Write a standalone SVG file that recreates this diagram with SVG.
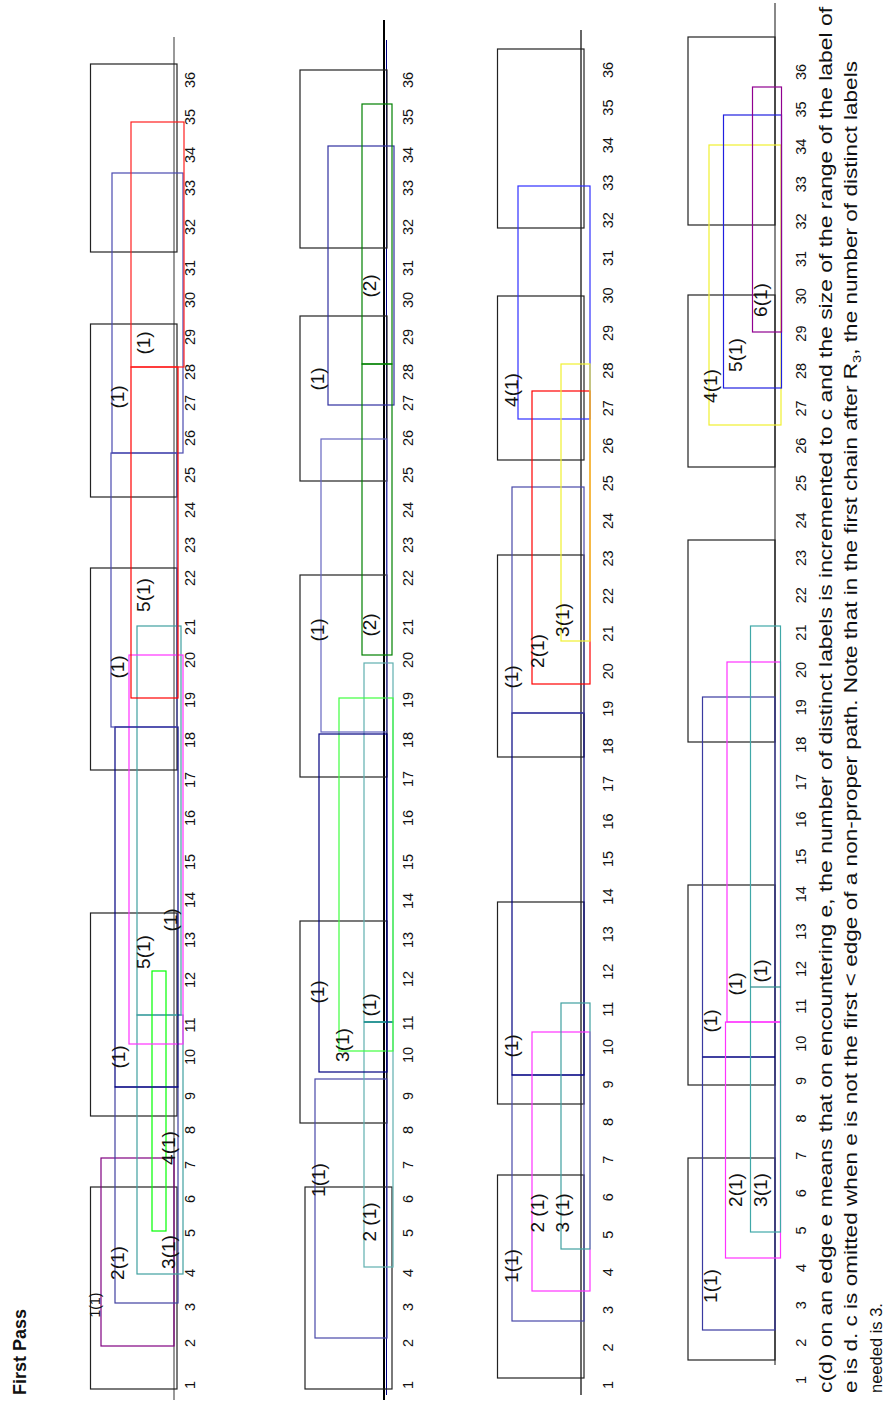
<svg xmlns="http://www.w3.org/2000/svg" width="885" height="1401" viewBox="0 0 885 1401">
<style>
text{font-family:"Liberation Sans",Arial,sans-serif;fill:#111}
.t{font-size:14.5px}
.l{font-size:19px}
.s{font-size:14px}
.cap{font-size:17.5px;white-space:pre}
.ttl{font-size:18px;font-weight:bold}
.box{fill:none;stroke:#222;stroke-width:1.2}
.e{fill:none;stroke-width:1.2}
.ax{stroke:#777;stroke-width:1.5}
</style>
<rect width="885" height="1401" fill="#fff"/>
<text class="ttl" transform="translate(26,1395) rotate(-90)">First Pass</text>

<!-- PANEL 1 -->
<g id="panel1">
<line class="ax" x1="174" y1="37" x2="174" y2="1400"/>
<g id="p1-boxes">
<rect class="box" x="90.5" y="1187" width="86.5" height="202"/>
<rect class="box" x="90.5" y="913" width="86.5" height="203"/>
<rect class="box" x="90.5" y="568" width="86.5" height="202"/>
<rect class="box" x="90.5" y="324" width="86.5" height="173"/>
<rect class="box" x="90.5" y="64" width="86.5" height="188"/>
</g>
<g id="p1-edges">
<rect class="e" x="101" y="1158" width="73" height="188" stroke="#800080" stroke-width="2.2"/>
<rect class="e" x="115" y="1087" width="63" height="216" stroke="#4040a0"/>
<rect class="e" x="137" y="1015" width="46" height="259" stroke="#40a0a0"/>
<rect class="e" x="137" y="626" width="44" height="389" stroke="#40a0a0"/>
<rect class="e" x="152" y="971" width="14" height="260" stroke="#00ff00" stroke-width="2.2"/>
<rect class="e" x="129" y="655" width="54" height="389" stroke="#ff33ff"/>
<rect class="e" x="115" y="727" width="63" height="360" stroke="#000080"/>
<rect class="e" x="111" y="453" width="66" height="274" stroke="#4a4ab0"/>
<rect class="e" x="112" y="173" width="71" height="280" stroke="#4a4ab0"/>
<rect class="e" x="131" y="367" width="47" height="331" stroke="#ff0000"/>
<rect class="e" x="131" y="122" width="53" height="245" stroke="#ff2020"/>
</g>
<g id="p1-labels" text-anchor="middle" dominant-baseline="central">
<text class="s" transform="translate(95,1305) rotate(-90)">1(1)</text>
<text class="l" transform="translate(117,1263) rotate(-90)">2(1)</text>
<text class="l" transform="translate(168,1252) rotate(-90)">3(1)</text>
<text class="l" transform="translate(168,1148) rotate(-90)">4(1)</text>
<text class="l" transform="translate(118,1057) rotate(-90)">(1)</text>
<text class="l" transform="translate(143,952) rotate(-90)">5(1)</text>
<text class="l" transform="translate(170,920) rotate(-90)">(1)</text>
<text class="l" transform="translate(117,667) rotate(-90)">(1)</text>
<text class="l" transform="translate(143,595) rotate(-90)">5(1)</text>
<text class="l" transform="translate(117,397) rotate(-90)">(1)</text>
<text class="l" transform="translate(143,343) rotate(-90)">(1)</text>
</g>
<g id="p1-ticks" class="t" text-anchor="middle" dominant-baseline="central">
<text transform="translate(190,1385) rotate(-90)">1</text>
<text transform="translate(190,1343) rotate(-90)">2</text>
<text transform="translate(190,1307) rotate(-90)">3</text>
<text transform="translate(190,1273) rotate(-90)">4</text>
<text transform="translate(190,1233) rotate(-90)">5</text>
<text transform="translate(190,1199) rotate(-90)">6</text>
<text transform="translate(190,1165) rotate(-90)">7</text>
<text transform="translate(190,1130) rotate(-90)">8</text>
<text transform="translate(190,1096) rotate(-90)">9</text>
<text transform="translate(190,1057) rotate(-90)">10</text>
<text transform="translate(190,1025) rotate(-90)">11</text>
<text transform="translate(190,980) rotate(-90)">12</text>
<text transform="translate(190,940) rotate(-90)">13</text>
<text transform="translate(190,900) rotate(-90)">14</text>
<text transform="translate(190,862) rotate(-90)">15</text>
<text transform="translate(190,818) rotate(-90)">16</text>
<text transform="translate(190,780) rotate(-90)">17</text>
<text transform="translate(190,740) rotate(-90)">18</text>
<text transform="translate(190,700) rotate(-90)">19</text>
<text transform="translate(190,660) rotate(-90)">20</text>
<text transform="translate(190,627) rotate(-90)">21</text>
<text transform="translate(190,578) rotate(-90)">22</text>
<text transform="translate(190,545) rotate(-90)">23</text>
<text transform="translate(190,510) rotate(-90)">24</text>
<text transform="translate(190,475) rotate(-90)">25</text>
<text transform="translate(190,438) rotate(-90)">26</text>
<text transform="translate(190,403) rotate(-90)">27</text>
<text transform="translate(190,372) rotate(-90)">28</text>
<text transform="translate(190,337) rotate(-90)">29</text>
<text transform="translate(190,300) rotate(-90)">30</text>
<text transform="translate(190,268) rotate(-90)">31</text>
<text transform="translate(190,227) rotate(-90)">32</text>
<text transform="translate(190,188) rotate(-90)">33</text>
<text transform="translate(190,155) rotate(-90)">34</text>
<text transform="translate(190,117) rotate(-90)">35</text>
<text transform="translate(190,80) rotate(-90)">36</text>
</g>
</g>

<!-- PANEL 2 -->
<g id="panel2">
<line x1="384" y1="20" x2="384" y2="1400" stroke="#000" stroke-width="2"/>
<line x1="386.5" y1="40" x2="386.5" y2="1395" stroke="#000080" stroke-width="1"/>
<g id="p2-boxes">
<rect class="box" x="305" y="1187" width="87" height="202"/>
<rect class="box" x="300" y="921" width="87" height="202"/>
<rect class="box" x="300" y="575" width="87" height="202"/>
<rect class="box" x="300" y="316" width="87" height="165"/>
<rect class="box" x="300" y="70" width="87" height="178"/>
</g>
<g id="p2-edges">
<rect class="e" x="315" y="1079" width="72" height="259" stroke="#4848a8"/>
<rect class="e" x="364" y="1022" width="29" height="245" stroke="#60b0b0" stroke-width="1.5"/>
<rect class="e" x="364" y="663" width="29" height="359" stroke="#60b0b0" stroke-width="1.5"/>
<line x1="364" y1="1022" x2="393" y2="1022" stroke="#008080" stroke-width="1.2"/>
<rect class="e" x="339" y="698" width="54" height="353" stroke="#40ff40"/>
<rect class="e" x="319" y="734" width="68" height="338" stroke="#000080"/>
<rect class="e" x="321" y="439" width="66" height="293" stroke="#6666c0"/>
<rect class="e" x="328" y="146" width="66" height="259" stroke="#3030a0"/>
<rect class="e" x="362" y="364" width="30" height="291" stroke="#008000"/>
<rect class="e" x="362" y="104" width="30" height="260" stroke="#008000"/>
</g>
<g id="p2-labels" class="l" text-anchor="middle" dominant-baseline="central">
<text transform="translate(318,1180) rotate(-90)">1(1)</text>
<text transform="translate(369,1222) rotate(-90)">2 (1)</text>
<text transform="translate(342,1045) rotate(-90)">3(1)</text>
<text transform="translate(369,1005) rotate(-90)">(1)</text>
<text transform="translate(317,992) rotate(-90)">(1)</text>
<text transform="translate(317,630) rotate(-90)">(1)</text>
<text transform="translate(369,625) rotate(-90)">(2)</text>
<text transform="translate(317,379) rotate(-90)">(1)</text>
<text transform="translate(369,286) rotate(-90)">(2)</text>
</g>
<g id="p2-ticks" class="t" text-anchor="middle" dominant-baseline="central">
<text transform="translate(408,1385) rotate(-90)">1</text>
<text transform="translate(408,1343) rotate(-90)">2</text>
<text transform="translate(408,1307) rotate(-90)">3</text>
<text transform="translate(408,1273) rotate(-90)">4</text>
<text transform="translate(408,1233) rotate(-90)">5</text>
<text transform="translate(408,1199) rotate(-90)">6</text>
<text transform="translate(408,1165) rotate(-90)">7</text>
<text transform="translate(408,1130) rotate(-90)">8</text>
<text transform="translate(408,1096) rotate(-90)">9</text>
<text transform="translate(408,1055) rotate(-90)">10</text>
<text transform="translate(408,1023) rotate(-90)">11</text>
<text transform="translate(408,979) rotate(-90)">12</text>
<text transform="translate(408,940) rotate(-90)">13</text>
<text transform="translate(408,901) rotate(-90)">14</text>
<text transform="translate(408,862) rotate(-90)">15</text>
<text transform="translate(408,818) rotate(-90)">16</text>
<text transform="translate(408,779) rotate(-90)">17</text>
<text transform="translate(408,740) rotate(-90)">18</text>
<text transform="translate(408,700) rotate(-90)">19</text>
<text transform="translate(408,660) rotate(-90)">20</text>
<text transform="translate(408,627) rotate(-90)">21</text>
<text transform="translate(408,578) rotate(-90)">22</text>
<text transform="translate(408,545) rotate(-90)">23</text>
<text transform="translate(408,510) rotate(-90)">24</text>
<text transform="translate(408,475) rotate(-90)">25</text>
<text transform="translate(408,438) rotate(-90)">26</text>
<text transform="translate(408,403) rotate(-90)">27</text>
<text transform="translate(408,372) rotate(-90)">28</text>
<text transform="translate(408,337) rotate(-90)">29</text>
<text transform="translate(408,300) rotate(-90)">30</text>
<text transform="translate(408,268) rotate(-90)">31</text>
<text transform="translate(408,227) rotate(-90)">32</text>
<text transform="translate(408,188) rotate(-90)">33</text>
<text transform="translate(408,155) rotate(-90)">34</text>
<text transform="translate(408,117) rotate(-90)">35</text>
<text transform="translate(408,80) rotate(-90)">36</text>
</g>
</g>

<!-- PANEL 3 -->
<g id="panel3">
<line x1="581" y1="30" x2="581" y2="1395" stroke="#333" stroke-width="1.5"/>
<g id="p3-boxes">
<rect class="box" x="497.5" y="1175" width="86.5" height="203"/>
<rect class="box" x="497.5" y="902" width="86.5" height="202"/>
<rect class="box" x="497.5" y="555" width="86.5" height="202"/>
<rect class="box" x="497.5" y="296" width="86.5" height="164"/>
<rect class="box" x="497.5" y="49" width="86.5" height="179"/>
</g>
<g id="p3-edges">
<rect class="e" x="512" y="1075" width="72" height="246" stroke="#4848a8"/>
<rect class="e" x="512" y="713" width="72" height="362" stroke="#000080"/>
<rect class="e" x="512" y="487" width="72" height="226" stroke="#4848a8"/>
<rect class="e" x="518" y="186" width="72" height="233" stroke="#3030ff"/>
<rect class="e" x="532" y="1032" width="58" height="259" stroke="#ff33ff"/>
<rect class="e" x="561" y="1003" width="29" height="246" stroke="#40a0a0"/>
<rect class="e" x="532" y="391" width="58" height="293" stroke="#ff0000"/>
<rect class="e" x="561" y="364" width="29" height="277" stroke="#f0f030"/>
</g>
<g id="p3-labels" class="l" text-anchor="middle" dominant-baseline="central">
<text transform="translate(511,1266) rotate(-90)">1(1)</text>
<text transform="translate(511,1046) rotate(-90)">(1)</text>
<text transform="translate(537,1213) rotate(-90)">2 (1)</text>
<text transform="translate(562,1213) rotate(-90)">3 (1)</text>
<text transform="translate(511,677) rotate(-90)">(1)</text>
<text transform="translate(537,651) rotate(-90)">2(1)</text>
<text transform="translate(562,620) rotate(-90)">3(1)</text>
<text transform="translate(511,390) rotate(-90)">4(1)</text>
</g>
<g id="p3-ticks" class="t" text-anchor="middle" dominant-baseline="central">
<text transform="translate(608,1385) rotate(-90)">1</text>
<text transform="translate(608,1347.4) rotate(-90)">2</text>
<text transform="translate(608,1309.9) rotate(-90)">3</text>
<text transform="translate(608,1272.3) rotate(-90)">4</text>
<text transform="translate(608,1234.7) rotate(-90)">5</text>
<text transform="translate(608,1197.2) rotate(-90)">6</text>
<text transform="translate(608,1159.6) rotate(-90)">7</text>
<text transform="translate(608,1122) rotate(-90)">8</text>
<text transform="translate(608,1084.4) rotate(-90)">9</text>
<text transform="translate(608,1046.9) rotate(-90)">10</text>
<text transform="translate(608,1009.3) rotate(-90)">11</text>
<text transform="translate(608,971.7) rotate(-90)">12</text>
<text transform="translate(608,934.2) rotate(-90)">13</text>
<text transform="translate(608,896.6) rotate(-90)">14</text>
<text transform="translate(608,859) rotate(-90)">15</text>
<text transform="translate(608,821.5) rotate(-90)">16</text>
<text transform="translate(608,783.9) rotate(-90)">17</text>
<text transform="translate(608,746.3) rotate(-90)">18</text>
<text transform="translate(608,708.7) rotate(-90)">19</text>
<text transform="translate(608,671.2) rotate(-90)">20</text>
<text transform="translate(608,633.6) rotate(-90)">21</text>
<text transform="translate(608,596) rotate(-90)">22</text>
<text transform="translate(608,558.5) rotate(-90)">23</text>
<text transform="translate(608,520.9) rotate(-90)">24</text>
<text transform="translate(608,483.3) rotate(-90)">25</text>
<text transform="translate(608,445.8) rotate(-90)">26</text>
<text transform="translate(608,408.2) rotate(-90)">27</text>
<text transform="translate(608,370.6) rotate(-90)">28</text>
<text transform="translate(608,333) rotate(-90)">29</text>
<text transform="translate(608,295.5) rotate(-90)">30</text>
<text transform="translate(608,257.9) rotate(-90)">31</text>
<text transform="translate(608,220.3) rotate(-90)">32</text>
<text transform="translate(608,182.8) rotate(-90)">33</text>
<text transform="translate(608,145.2) rotate(-90)">34</text>
<text transform="translate(608,107.6) rotate(-90)">35</text>
<text transform="translate(608,70) rotate(-90)">36</text>
</g>
</g>

<!-- PANEL 4 -->
<g id="panel4">
<line x1="775" y1="3" x2="775" y2="1365" stroke="#888" stroke-width="2"/>
<g id="p4-boxes">
<rect class="box" x="688" y="1158" width="87" height="202"/>
<rect class="box" x="688" y="885" width="87" height="200"/>
<rect class="box" x="688" y="540" width="87" height="202"/>
<rect class="box" x="688" y="295" width="87" height="172"/>
<rect class="box" x="688" y="37" width="87" height="188"/>
</g>
<g id="p4-edges">
<rect class="e" x="702.5" y="697" width="72.5" height="633" stroke="#3a3aa0"/>
<line x1="702.5" y1="1057" x2="775" y2="1057" stroke="#000080" stroke-width="1.5"/>
<rect class="e" x="725.5" y="1022" width="55" height="236" stroke="#ff33ff"/>
<rect class="e" x="727" y="662" width="53.5" height="360" stroke="#ff33ff"/>
<rect class="e" x="750.5" y="626" width="30" height="606" stroke="#40a8a8" stroke-width="1.5"/>
<line x1="750.5" y1="987" x2="780.5" y2="987" stroke="#2a8a8a" stroke-width="1.2"/>
<rect class="e" x="709" y="145" width="72" height="280" stroke="#f0f030"/>
<rect class="e" x="723.5" y="115" width="58" height="273" stroke="#2020e0"/>
<rect class="e" x="752.5" y="87" width="29" height="245" stroke="#900090"/>
</g>
<g id="p4-labels" class="l" text-anchor="middle" dominant-baseline="central">
<text transform="translate(710,1286) rotate(-90)">1(1)</text>
<text transform="translate(710,1021) rotate(-90)">(1)</text>
<text transform="translate(735,1190) rotate(-90)">2(1)</text>
<text transform="translate(760,1190) rotate(-90)">3(1)</text>
<text transform="translate(735,984) rotate(-90)">(1)</text>
<text transform="translate(760,971) rotate(-90)">(1)</text>
<text transform="translate(710,386) rotate(-90)">4(1)</text>
<text transform="translate(735,355) rotate(-90)">5(1)</text>
<text transform="translate(760,300) rotate(-90)">6(1)</text>
</g>
<g id="p4-ticks" class="t" text-anchor="middle" dominant-baseline="central">
<text transform="translate(801,1380) rotate(-90)">1</text>
<text transform="translate(801,1342.6) rotate(-90)">2</text>
<text transform="translate(801,1305.3) rotate(-90)">3</text>
<text transform="translate(801,1267.9) rotate(-90)">4</text>
<text transform="translate(801,1230.5) rotate(-90)">5</text>
<text transform="translate(801,1193.2) rotate(-90)">6</text>
<text transform="translate(801,1155.8) rotate(-90)">7</text>
<text transform="translate(801,1118.4) rotate(-90)">8</text>
<text transform="translate(801,1081) rotate(-90)">9</text>
<text transform="translate(801,1043.7) rotate(-90)">10</text>
<text transform="translate(801,1006.3) rotate(-90)">11</text>
<text transform="translate(801,968.9) rotate(-90)">12</text>
<text transform="translate(801,931.6) rotate(-90)">13</text>
<text transform="translate(801,894.2) rotate(-90)">14</text>
<text transform="translate(801,856.8) rotate(-90)">15</text>
<text transform="translate(801,819.5) rotate(-90)">16</text>
<text transform="translate(801,782.1) rotate(-90)">17</text>
<text transform="translate(801,744.7) rotate(-90)">18</text>
<text transform="translate(801,707.3) rotate(-90)">19</text>
<text transform="translate(801,670) rotate(-90)">20</text>
<text transform="translate(801,632.6) rotate(-90)">21</text>
<text transform="translate(801,595.2) rotate(-90)">22</text>
<text transform="translate(801,557.9) rotate(-90)">23</text>
<text transform="translate(801,520.5) rotate(-90)">24</text>
<text transform="translate(801,483.1) rotate(-90)">25</text>
<text transform="translate(801,445.8) rotate(-90)">26</text>
<text transform="translate(801,408.4) rotate(-90)">27</text>
<text transform="translate(801,371) rotate(-90)">28</text>
<text transform="translate(801,333.6) rotate(-90)">29</text>
<text transform="translate(801,296.3) rotate(-90)">30</text>
<text transform="translate(801,258.9) rotate(-90)">31</text>
<text transform="translate(801,221.5) rotate(-90)">32</text>
<text transform="translate(801,184.2) rotate(-90)">33</text>
<text transform="translate(801,146.8) rotate(-90)">34</text>
<text transform="translate(801,109.4) rotate(-90)">35</text>
<text transform="translate(801,72) rotate(-90)">36</text>
</g>
</g>

<g id="caption" class="cap">
<text transform="translate(832,1393) rotate(-90)" textLength="1386" lengthAdjust="spacingAndGlyphs">c(d) on an  edge e means that  on encountering e, the number  of distinct labels  is incremented to c and the size of the range of the  label of</text>
<text transform="translate(857,1393) rotate(-90)" textLength="1332" lengthAdjust="spacingAndGlyphs">e is d.  c is   omitted when e is not the first &lt; edge of a non-proper path. Note that in the first chain after R<tspan font-size="11.5" dy="4">3</tspan><tspan dy="-4">, the number  of distinct labels</tspan></text>
<text transform="translate(882,1393) rotate(-90)" style="font-size:16.5px">needed is 3.</text>
</g>
</svg>
